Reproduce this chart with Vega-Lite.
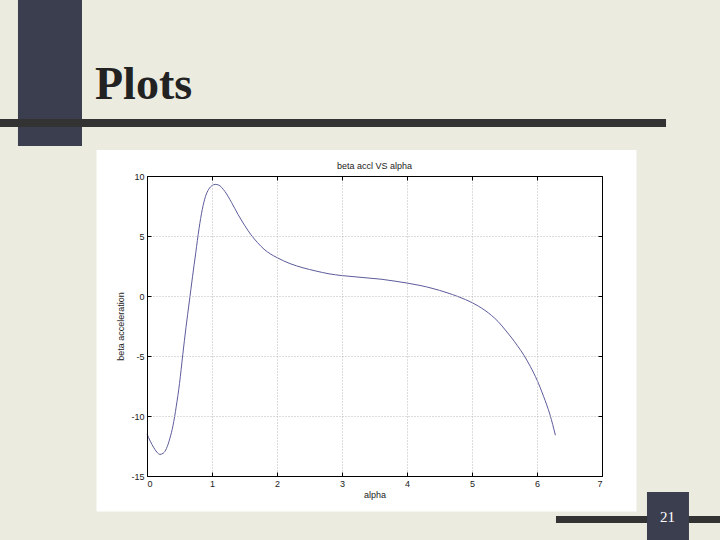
{
  "$schema": "https://vega.github.io/schema/vega-lite/v6.json",
  "width": 455,
  "height": 300,
  "autosize": {"type": "none"},
  "padding": {"left": 147, "top": 176, "right": 118, "bottom": 64},
  "background": "#ebebdf",
  "data": {
    "values": [
      {"alpha": 0.00, "beta": -11.5},
      {"alpha": 0.05, "beta": -12.1},
      {"alpha": 0.10, "beta": -12.6},
      {"alpha": 0.15, "beta": -13.0},
      {"alpha": 0.20, "beta": -13.2},
      {"alpha": 0.25, "beta": -13.1},
      {"alpha": 0.30, "beta": -12.7},
      {"alpha": 0.35, "beta": -11.9},
      {"alpha": 0.40, "beta": -10.8},
      {"alpha": 0.45, "beta": -9.2},
      {"alpha": 0.50, "beta": -7.3},
      {"alpha": 0.55, "beta": -4.9},
      {"alpha": 0.60, "beta": -2.6},
      {"alpha": 0.65, "beta": -0.5},
      {"alpha": 0.70, "beta": 1.6},
      {"alpha": 0.75, "beta": 3.6},
      {"alpha": 0.80, "beta": 5.6},
      {"alpha": 0.85, "beta": 7.2},
      {"alpha": 0.90, "beta": 8.3},
      {"alpha": 0.95, "beta": 8.9},
      {"alpha": 1.00, "beta": 9.2},
      {"alpha": 1.05, "beta": 9.3},
      {"alpha": 1.10, "beta": 9.25},
      {"alpha": 1.20, "beta": 8.7},
      {"alpha": 1.30, "beta": 7.8},
      {"alpha": 1.40, "beta": 6.8},
      {"alpha": 1.50, "beta": 5.9},
      {"alpha": 1.60, "beta": 5.1},
      {"alpha": 1.70, "beta": 4.45},
      {"alpha": 1.80, "beta": 3.9},
      {"alpha": 1.90, "beta": 3.5},
      {"alpha": 2.00, "beta": 3.2},
      {"alpha": 2.20, "beta": 2.7},
      {"alpha": 2.40, "beta": 2.35},
      {"alpha": 2.60, "beta": 2.08},
      {"alpha": 2.80, "beta": 1.85},
      {"alpha": 3.00, "beta": 1.7},
      {"alpha": 3.20, "beta": 1.6},
      {"alpha": 3.40, "beta": 1.5},
      {"alpha": 3.60, "beta": 1.4},
      {"alpha": 3.80, "beta": 1.25},
      {"alpha": 4.00, "beta": 1.08},
      {"alpha": 4.20, "beta": 0.88},
      {"alpha": 4.30, "beta": 0.76},
      {"alpha": 4.40, "beta": 0.62},
      {"alpha": 4.50, "beta": 0.47},
      {"alpha": 4.60, "beta": 0.3},
      {"alpha": 4.70, "beta": 0.12},
      {"alpha": 4.80, "beta": -0.08},
      {"alpha": 4.90, "beta": -0.3},
      {"alpha": 5.00, "beta": -0.55},
      {"alpha": 5.10, "beta": -0.85},
      {"alpha": 5.20, "beta": -1.2},
      {"alpha": 5.30, "beta": -1.62},
      {"alpha": 5.40, "beta": -2.12},
      {"alpha": 5.50, "beta": -2.75},
      {"alpha": 5.60, "beta": -3.42},
      {"alpha": 5.70, "beta": -4.15},
      {"alpha": 5.80, "beta": -4.95},
      {"alpha": 5.90, "beta": -5.9},
      {"alpha": 6.00, "beta": -7.0},
      {"alpha": 6.10, "beta": -8.35},
      {"alpha": 6.20, "beta": -9.9},
      {"alpha": 6.283, "beta": -11.6}
    ]
  },
  "layer": [
    {
      "data": {"values": [{}]},
      "mark": {"type": "rect", "fill": "#ffffff", "clip": false},
      "encoding": {
        "x": {"datum": -0.777, "type": "quantitative", "axis": null, "scale": {"domain": [0, 7], "nice": false, "zero": false}},
        "x2": {"datum": 7.531},
        "y": {"datum": 12.167, "type": "quantitative", "axis": null, "scale": {"domain": [-15, 10], "nice": false, "zero": false}},
        "y2": {"datum": -17.958}
      }
    },
    {
      "data": {"values": [{}]},
      "mark": {"type": "rect", "fill": "#3b3e4e", "clip": false},
      "encoding": {
        "x": {"datum": -1.985, "type": "quantitative", "axis": null},
        "x2": {"datum": -1.0},
        "y": {"datum": 26, "type": "quantitative", "axis": null},
        "y2": {"datum": 12.5}
      }
    },
    {
      "data": {"values": [{}]},
      "mark": {"type": "rect", "fill": "#333333", "clip": false},
      "encoding": {
        "x": {"datum": -2.4, "type": "quantitative", "axis": null},
        "x2": {"datum": 7.985},
        "y": {"datum": 14.75, "type": "quantitative", "axis": null},
        "y2": {"datum": 14.083}
      }
    },
    {
      "data": {"values": [{}]},
      "mark": {"type": "rect", "fill": "#333333", "clip": false},
      "encoding": {
        "x": {"datum": 6.292, "type": "quantitative", "axis": null},
        "x2": {"datum": 9.2},
        "y": {"datum": -18.333, "type": "quantitative", "axis": null},
        "y2": {"datum": -18.917}
      }
    },
    {
      "data": {"values": [{}]},
      "mark": {"type": "rect", "fill": "#3b3e4e", "clip": false},
      "encoding": {
        "x": {"datum": 7.692, "type": "quantitative", "axis": null},
        "x2": {"datum": 8.338},
        "y": {"datum": -16.333, "type": "quantitative", "axis": null},
        "y2": {"datum": -21}
      }
    },
    {
      "mark": {"type": "line", "color": "#5c5c9c", "strokeWidth": 1, "interpolate": "monotone", "clip": false},
      "encoding": {
        "x": {
          "field": "alpha", "type": "quantitative",
          "scale": {"domain": [0, 7], "nice": false, "zero": false},
          "axis": {"orient": "bottom", "zindex": 1, "values": [0, 1, 2, 3, 4, 5, 6, 7], "title": "alpha", "titlePadding": 2, "grid": true}
        },
        "y": {
          "field": "beta", "type": "quantitative",
          "scale": {"domain": [-15, 10], "nice": false, "zero": false},
          "axis": {"orient": "left", "zindex": 1, "values": [-15, -10, -5, 0, 5, 10], "title": "beta acceleration", "titlePadding": 5, "grid": true}
        }
      }
    },
    {
      "mark": {"type": "line", "strokeOpacity": 0},
      "encoding": {
        "x": {
          "field": "alpha", "type": "quantitative",
          "axis": {"orient": "top", "zindex": 1, "values": [0, 1, 2, 3, 4, 5, 6, 7], "labels": false, "title": null, "grid": false}
        },
        "y": {
          "field": "beta", "type": "quantitative",
          "axis": {"orient": "right", "zindex": 1, "values": [-15, -10, -5, 0, 5, 10], "labels": false, "title": null, "grid": false}
        }
      }
    },
    {
      "data": {"values": [{}]},
      "mark": {"type": "text", "text": "beta accl VS alpha", "font": "Liberation Sans", "fontSize": 9, "color": "#222222", "align": "center", "baseline": "middle"},
      "encoding": {
        "x": {"datum": 3.5, "type": "quantitative", "axis": null},
        "y": {"datum": 10.833, "type": "quantitative", "axis": null}
      }
    },
    {
      "data": {"values": [{}]},
      "mark": {"type": "text", "text": "Plots", "font": "Liberation Serif", "fontSize": 46, "fontWeight": "bold", "color": "#222222", "align": "left", "baseline": "alphabetic"},
      "encoding": {
        "x": {"datum": -0.8, "type": "quantitative", "axis": null},
        "y": {"datum": 16.417, "type": "quantitative", "axis": null}
      }
    },
    {
      "data": {"values": [{}]},
      "mark": {"type": "text", "text": "21", "font": "Liberation Serif", "fontSize": 15, "color": "#ffffff", "align": "center", "baseline": "middle"},
      "encoding": {
        "x": {"datum": 8.008, "type": "quantitative", "axis": null},
        "y": {"datum": -18.375, "type": "quantitative", "axis": null}
      }
    }
  ],
  "resolve": {"axis": {"x": "independent", "y": "independent"}},
  "config": {
    "view": {"stroke": null},
    "axis": {
      "domainColor": "#000000",
      "domainWidth": 1,
      "tickColor": "#000000",
      "tickSize": -4,
      "labelPadding": 7,
      "labelFont": "Liberation Sans",
      "labelFontSize": 9,
      "labelColor": "#222222",
      "labelExpr": "'' + datum.value",
      "titleFont": "Liberation Sans",
      "titleFontSize": 9,
      "titleFontWeight": "normal",
      "titleColor": "#222222",
      "gridColor": "#b8b8b8",
      "gridDash": [1, 2],
      "gridWidth": 1
    }
  }
}
